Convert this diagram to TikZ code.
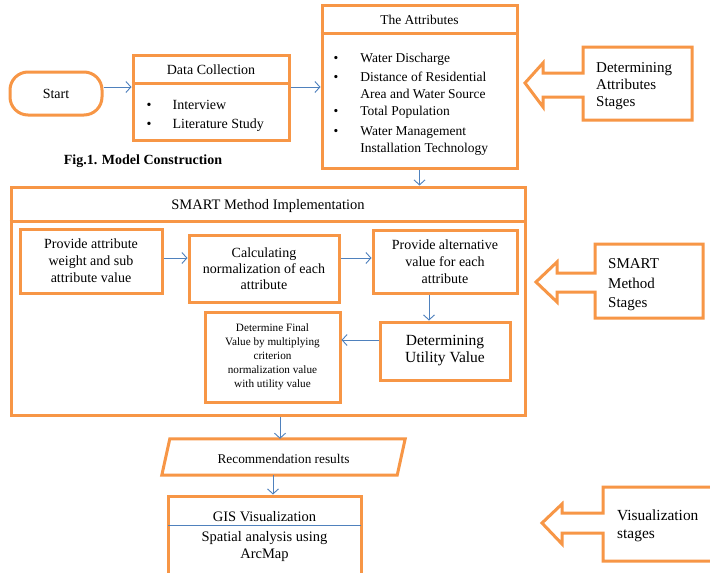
\documentclass[tikz,border=0pt]{standalone}
\usepackage{fontspec}
\setmainfont{Liberation Serif}
\usetikzlibrary{arrows.meta,calc}
\definecolor{orng}{HTML}{F79646}
\definecolor{blu}{HTML}{4F81BD}
\newcommand\fsz[2]{\fontsize{#1}{#2}\selectfont}
\begin{document}
\begin{tikzpicture}[x=1pt,y=-1pt,
  obox/.style={draw=orng,line width=3pt,inner sep=0pt,align=center},
  arr/.style={draw=blu,line width=0.9pt,-{Straight Barb[length=5pt,width=11pt]}},
  callout/.style={draw=orng,line width=3pt,line join=miter},
  txt/.style={inner sep=0pt,align=center},
  ltxt/.style={inner sep=0pt,align=left,anchor=west}]
\useasboundingbox (0,0) rectangle (710,573);
\clip (0,0) rectangle (710,573);
\fill[white] (0,0) rectangle (710,573);

% helper coordinates for connector lines
\coordinate (ya) at (0,87);
\coordinate (yb) at (0,258);
\coordinate (xc) at (429,0);
\coordinate (yd) at (0,340);
\coordinate (xe) at (280,0);
\coordinate (xf) at (273,0);

% Start
\node[obox,rounded corners=18pt,minimum width=92,minimum height=43,font=\fsz{14}{17}] (start) at (56,93.5) {Start};

% Data collection
\node[obox,minimum width=156,minimum height=85] (dc) at (211,97.5) {};
\draw[orng,line width=3pt] ($(dc.north west)+(0,30)$) -- ($(dc.north east)+(0,30)$);
\node[txt,font=\fsz{14}{17}] (dct) at (211,70) {Data Collection};
\node[ltxt,font=\fsz{14}{19}] (dcl) at (146.5,115.5)
  {\begin{tabular}{@{}l@{\hspace{21pt}}l@{}}•&Interview\\•&Literature Study\end{tabular}};

\node[txt,font=\bfseries\fsz{14}{17}] (cap) at (143,161) {Fig.1. Model Construction};

% Attributes
\node[obox,minimum width=195,minimum height=163] (attr) at (419.5,86.5) {};
\draw[orng,line width=3pt] ($(attr.north west)+(0,30)$) -- ($(attr.north east)+(0,30)$);
\node[txt,font=\fsz{13.5}{17}] (attrt) at (419.5,20) {The Attributes};
\node[ltxt,font=\fsz{13.5}{17}] (attrl) at (333.5,104.5)
  {\begin{tabular}{@{}l@{\hspace{22pt}}l@{}}
   •&Water Discharge\\[2pt]
   •&Distance of Residential\\
    &Area and Water Source\\
   •&Total Population\\[3pt]
   •&Water Management\\
    &Installation Technology
   \end{tabular}};

% Determining attributes stages callout
\draw[callout] (583,73) -- (583,47) -- (692,47) -- (692,120) -- (583,120) -- (583,97)
  -- (543,97) -- (543,107) -- (525,83) -- (543,63) -- (543,73) -- cycle;
\node[ltxt,font=\fsz{15}{17}] (c1) at (596,86) {Determining\\Attributes\\Stages};

% SMART
\node[obox,minimum width=514,minimum height=228] (smart) at (268,301) {};
\draw[orng,line width=3pt] ($(smart.north west)+(0,36)$) -- ($(smart.north east)+(0,36)$);
\node[txt,font=\fsz{14.5}{17}] (smartt) at (268,206) {SMART Method Implementation};

\node[obox,minimum width=142,minimum height=64,font=\fsz{14}{17}] (p1) at (91,261)
  {Provide attribute\\weight and sub\\attribute value};
\node[obox,minimum width=150,minimum height=67,font=\fsz{14}{16}] (p2) at (264,268.5)
  {Calculating\\normalization of each\\attribute};
\node[obox,minimum width=144,minimum height=63,font=\fsz{14}{17}] (p3) at (445,261.5)
  {Provide alternative\\value for each\\attribute};
\node[obox,minimum width=130,minimum height=58,font=\fsz{15.5}{17}] (util) at (445,351)
  {Determining\\Utility Value};
\node[obox,minimum width=135,minimum height=90,font=\fsz{11.2}{14}] (final) at (272.5,357)
  {Determine Final\\Value by multiplying\\criterion\\normalization value\\with utility value};

% SMART stages callout
\draw[callout] (595,273) -- (595,244) -- (703,244) -- (703,318) -- (595,318) -- (595,292)
  -- (557,292) -- (557,302) -- (536,282) -- (557,262) -- (557,273) -- cycle;
\node[ltxt,font=\fsz{15}{19.5}] (c2) at (608,285) {SMART\\Method\\Stages};

% Recommendation
\node[inner sep=0pt,minimum width=235,minimum height=36] (rec) at (283.5,457) {};
\draw[orng,line width=3pt,line join=miter]
  ($(rec.north west)+(4,0)$) -- ($(rec.north east)+(4,0)$) --
  ($(rec.south east)+(-4,0)$) -- ($(rec.south west)+(-4,0)$) -- cycle;
\node[txt,font=\fsz{13.3}{17}] (rect) at (283.5,459) {Recommendation results};

% GIS
\node[obox,minimum width=193,minimum height=94] (gis) at (264.5,543) {};
\draw[blu,line width=1pt] ($(gis.north west)+(1.5,31)$) -- ($(gis.north east)+(-1.5,31)$);
\node[txt,font=\fsz{14.5}{17}] (gist) at (264.5,517) {GIS Visualization};
\node[txt,font=\fsz{14.5}{17}] (gisb) at (264.5,546.5) {Spatial analysis using\\ArcMap};

% Visualization stages callout
\draw[callout] (603,513) -- (603,487) -- (716,487) -- (716,561) -- (603,561) -- (603,533)
  -- (562,533) -- (562,544) -- (542,523) -- (562,504) -- (562,513) -- cycle;
\node[ltxt,font=\fsz{15.4}{18}] (c3) at (617,526) {Visualization\\stages};

% connectors
\draw[arr] (start.east |- ya) -- (dc.west |- ya);
\draw[arr] (dc.east |- ya) -- (attr.west |- ya);
\draw[arr] (attr.south) -- (attr.south |- smart.north);
\draw[arr] (p1.east |- yb) -- (p2.west |- yb);
\draw[arr] (p2.east |- yb) -- (p3.west |- yb);
\draw[arr] (p3.south -| xc) -- (util.north -| xc);
\draw[arr] (util.west |- yd) -- (final.east |- yd);
\draw[arr] (smart.south -| xe) -- (rec.north -| xe);
\draw[arr] (rec.south -| xf) -- (gis.north -| xf);
\end{tikzpicture}
\end{document}
